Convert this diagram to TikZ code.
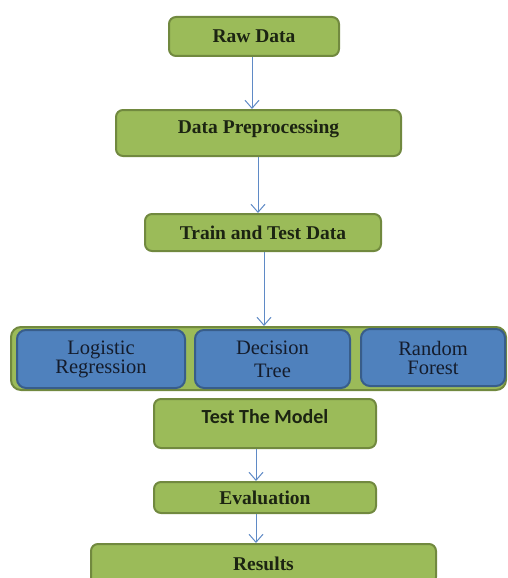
\documentclass[tikz,border=0pt]{standalone}
\usepackage{fontspec}
\setmainfont{Liberation Serif}
\newfontfamily\calibrifont{Carlito}
\usepackage{xcolor}
\usetikzlibrary{positioning,arrows.meta}
\definecolor{stepgreen}{HTML}{9BBB59}
\definecolor{stepgreenline}{HTML}{71893F}
\definecolor{modelblue}{HTML}{4F81BD}
\definecolor{modelblueline}{HTML}{385D8A}
\definecolor{flowarrow}{HTML}{5F8AC6}
\definecolor{boxtext}{HTML}{1C2412}
\definecolor{modeltext}{HTML}{141C2C}

\begin{document}
\begin{tikzpicture}[x=1pt,y=-1pt,
  greenbox/.style={rectangle, rounded corners=7pt, draw=stepgreenline, fill=stepgreen, line width=2pt, text=boxtext, font=\bfseries\fontsize{19.5}{22}\selectfont},
  bluebox/.style={rectangle, rounded corners=9pt, draw=modelblueline, fill=modelblue, line width=2pt, align=center, text=modeltext, font=\fontsize{20.5}{19}\selectfont},
  flow/.style={draw=flowarrow, line width=1pt, -{Straight Barb[length=8pt,width=14pt]}},]
  \useasboundingbox (0,0) rectangle (508,578);
  %Nodes
  \node[greenbox, minimum width=170pt, minimum height=39pt](rawdata) at (254,36.5){Raw Data};
  \node[greenbox, minimum width=285pt, minimum height=46pt, text depth=12pt](prep) at (258.5,133){Data Preprocessing};
  \node[greenbox, minimum width=236pt, minimum height=37pt](traintest) at (263,232.5){Train and Test Data};
  \node[greenbox, rounded corners=10pt, minimum width=495pt, minimum height=63pt](models) at (258.5,358.5){};
  \node[bluebox, minimum width=168pt, minimum height=58pt](logreg) at (101,359){Logistic\\Regression};
  \node[bluebox, minimum width=155pt, minimum height=58pt, font=\fontsize{20.5}{23}\selectfont](dtree) at (272.5,359){Decision\\Tree};
  \node[bluebox, minimum width=144pt, minimum height=57pt](rforest) at (433,357.5){Random\\Forest};
  \node[greenbox, minimum width=222pt, minimum height=49pt, text depth=14pt, font=\calibrifont\bfseries\fontsize{20}{22}\selectfont](testmodel) at (265,423.5){Test The Model};
  \node[greenbox, minimum width=222pt, minimum height=31pt](eval) at (265,497.5){Evaluation};
  \node[greenbox, minimum width=345pt, minimum height=40pt](results) at (263.5,564){Results};

  %Lines
  \draw[flow] ([xshift=-2pt]rawdata.south) -- ([xshift=-2pt]rawdata.south |- prep.north);
  \draw[flow] ([xshift=-0.5pt]prep.south) -- ([xshift=-0.5pt]prep.south |- traintest.north);
  \draw[flow] ([xshift=1pt]traintest.south) -- ([xshift=1pt]traintest.south |- models.north);
  \draw[flow] ([xshift=-9pt]testmodel.south) -- ([xshift=-9pt]testmodel.south |- eval.north);
  \draw[flow] ([xshift=-9pt]eval.south) -- ([xshift=-9pt]eval.south |- results.north);
\end{tikzpicture}
\end{document}
